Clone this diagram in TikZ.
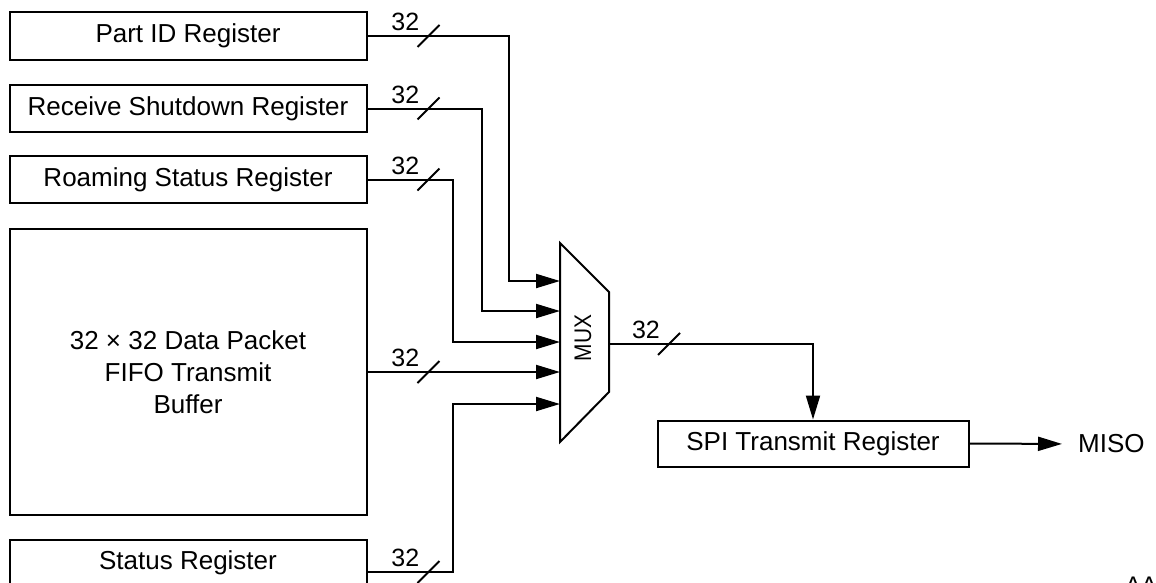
\documentclass[tikz,border=0pt]{standalone}
\usepackage{fontspec}
\setmainfont{Liberation Sans}
\usetikzlibrary{arrows.meta,calc}
\newcommand{\busmark}[3]{%
  \draw[wire] ($(#1)+(-11,11)$) -- ($(#1)+(11,-11)$);
  \node[buslabel] (#3) at ($(#1)+(-9,-5)$) {#2};}
\begin{document}
\begin{tikzpicture}[x=1pt,y=-1pt,
  box/.style={draw, line width=2pt, inner sep=0pt, align=center,
              font=\fontsize{26}{32}\selectfont},
  wire/.style={line width=2pt},
  arr/.style={wire, -{Triangle[length=24pt,width=14pt]}},
  buslabel/.style={anchor=south east, inner sep=0pt,
              font=\fontsize{25}{30}\selectfont},
  txt/.style={inner sep=0pt, font=\fontsize{26}{32}\selectfont}]
\useasboundingbox (0,0) rectangle (1156,582);
\clip (0,0) rectangle (1156,582);

% source registers
\node[box, minimum width=357pt, minimum height=48pt] (partid)  at (188,36)    {Part ID Register};
\node[box, minimum width=357pt, minimum height=47pt] (receive) at (188,108.5) {Receive Shutdown Register};
\node[box, minimum width=357pt, minimum height=47pt] (roaming) at (188,179.5) {Roaming Status Register};
\node[box, minimum width=357pt, minimum height=286pt] (fifo)   at (188,372)   {32 × 32 Data Packet\\FIFO Transmit\\Buffer};
\node[box, minimum width=357pt, minimum height=46pt] (status)  at (188,563)   {Status Register};

% multiplexer
\draw[wire] (560,243) -- (609,292) -- (609,392) -- (560,442) -- cycle;
\node[txt, rotate=90, font=\fontsize{24}{28}\selectfont] (muxlabel) at (583,338) {\scalebox{0.87}[1]{MUX}};
\coordinate (in1) at (560,281);
\coordinate (in2) at (560,311);
\coordinate (in3) at (560,342);
\coordinate (in4) at (560,372);
\coordinate (in5) at (560,404);
\coordinate (mout) at (609,344);
\coordinate (colA) at (509,0);
\coordinate (colB) at (482,0);
\coordinate (colC) at (453,0);

% output side
\node[box, minimum width=311pt, minimum height=46pt] (spi) at (813,443.5) {SPI Transmit Register};
\node[txt, anchor=west] (miso) at (1078,444) {MISO};
\node[txt, anchor=north west, font=\fontsize{24}{28}\selectfont] (code) at (1125,577) {AA1};

% connectors
\draw[arr] (partid.east)  -| (colA |- in1) -- (in1);
\draw[arr] (receive.east) -| (colB |- in2) -- (in2);
\draw[arr] (roaming.east) -| (colC |- in3) -- (in3);
\draw[arr] (fifo.east) -- (in4);
\draw[arr] ([yshift=-9pt]status.east) -| (colC |- in5) -- (in5);
\draw[arr] (mout) -| (spi.north);
\draw[arr, shorten >=16pt] (spi.east) -- (miso.west);

% bus width marks
\coordinate (b1) at ($(partid.east)+(61,0)$);
\coordinate (b2) at ($(receive.east)+(61,0)$);
\coordinate (b3) at ($(roaming.east)+(61,0)$);
\coordinate (b4) at ($(fifo.east)+(61,0)$);
\coordinate (b5) at ($([yshift=-9pt]status.east)+(61,0)$);
\coordinate (b6) at ($(mout)+(60,0)$);
\busmark{b1}{32}{l1}
\busmark{b2}{32}{l2}
\busmark{b3}{32}{l3}
\busmark{b4}{32}{l4}
\busmark{b5}{32}{l5}
\busmark{b6}{32}{l6}
\end{tikzpicture}
\end{document}
